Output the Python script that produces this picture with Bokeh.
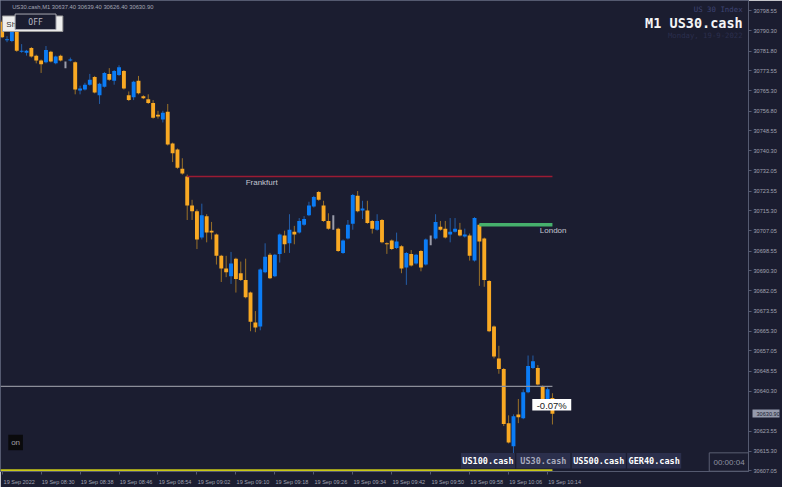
from bokeh.plotting import figure
from bokeh.models import (Range1d, FixedTicker, PrintfTickFormatter, Label,
                          BoxAnnotation, ColumnDataSource, LinearAxis)
from bokeh.embed import file_html
from bokeh.resources import INLINE

# ---------------- data ----------------
symbol = "US30.cash"
timeframe = "M1"
index_name = "US 30 Index"
date_text = "Monday, 19-9-2022"

# one candle per minute, minute 0 = 08:22
opens = [
    30794.0, 30786.35, 30785.95, 30791.6, 30781.5, 30781.1, 30783.1, 30779.9, 30777.9, 30777.1,
    30781.5, 30776.7, 30779.9, 30776.3, 30777.9, 30777.1, 30765.4, 30765.8, 30767.8, 30771.05,
    30763.4, 30767.0, 30772.3, 30769.45, 30771.85, 30773.5, 30763.4, 30762.6, 30769.45, 30763.0,
    30761.8, 30760.2, 30755.35, 30753.3, 30756.55, 30743.3, 30740.85, 30732.8, 30729.6, 30717.5,
    30715.1, 30704.2, 30713.1, 30707.05, 30705.45, 30696.6, 30691.35, 30688.1, 30695.4, 30689.35,
    30686.5, 30681.3, 30668.8, 30667.2, 30689.75, 30697.0, 30688.1, 30697.4, 30705.05, 30701.8,
    30706.65, 30706.25, 30709.5, 30713.5, 30717.1, 30723.15, 30717.5, 30711.1, 30710.3, 30707.9,
    30697.8, 30703.8, 30709.9, 30721.55, 30715.5, 30715.5, 30711.1, 30707.45, 30711.5, 30701.8,
    30703.0, 30699.8, 30700.6, 30691.75, 30697.4, 30693.4, 30698.6, 30692.95, 30703.0, 30703.8,
    30708.7, 30707.9, 30705.45, 30706.65, 30707.45, 30704.65, 30705.05, 30694.6, 30709.5, 30703.8,
    30686.1, 30667.2, 30653.9, 30649.5, 30626.95, 30617.3, 30630.6, 30629.0, 30639.85, 30649.9,
    30649.9, 30642.25, 30636.6, 30637.4]
highs = [
    30794.8, 30788.0, 30792.4, 30792.0, 30784.7, 30782.3, 30783.5, 30780.3, 30778.3, 30783.9,
    30781.9, 30779.9, 30780.3, 30777.5, 30779.1, 30777.5, 30767.4, 30768.6, 30772.3, 30771.45,
    30768.6, 30773.1, 30774.7, 30773.9, 30775.9, 30773.9, 30765.0, 30769.45, 30771.45, 30763.4,
    30763.8, 30761.4, 30756.95, 30756.95, 30759.8, 30743.7, 30741.25, 30737.2, 30730.4, 30719.9,
    30715.9, 30718.3, 30713.9, 30710.7, 30705.85, 30697.0, 30696.6, 30698.2, 30695.8, 30694.2,
    30695.4, 30681.7, 30673.6, 30691.35, 30701.8, 30697.8, 30697.4, 30705.85, 30707.05, 30713.9,
    30709.05, 30712.3, 30713.1, 30719.1, 30721.55, 30723.55, 30719.5, 30714.3, 30713.5, 30708.3,
    30703.4, 30711.5, 30722.35, 30723.55, 30719.5, 30719.5, 30711.5, 30713.9, 30711.9, 30702.2,
    30703.4, 30706.25, 30701.0, 30698.2, 30699.0, 30697.4, 30699.0, 30703.8, 30705.05, 30713.9,
    30711.1, 30711.1, 30712.3, 30712.3, 30710.3, 30707.9, 30705.85, 30712.7, 30709.9, 30704.2,
    30686.5, 30667.6, 30659.15, 30649.9, 30630.2, 30630.6, 30637.0, 30641.05, 30655.1, 30655.1,
    30651.1, 30642.65, 30641.85, 30639.4]
lows = [
    30787.2, 30785.5, 30785.5, 30781.5, 30781.1, 30779.9, 30779.1, 30776.7, 30772.7, 30776.7,
    30777.1, 30776.3, 30777.5, 30774.7, 30777.5, 30763.8, 30763.8, 30765.4, 30767.4, 30764.2,
    30759.8, 30766.6, 30769.45, 30767.8, 30771.45, 30765.8, 30761.0, 30761.4, 30763.8, 30761.8,
    30759.8, 30753.7, 30753.7, 30752.1, 30742.5, 30735.6, 30732.8, 30730.4, 30711.5, 30711.5,
    30699.4, 30703.4, 30702.2, 30703.4, 30692.95, 30685.7, 30687.7, 30684.9, 30681.3, 30686.1,
    30678.9, 30665.2, 30664.8, 30665.6, 30689.35, 30686.9, 30687.7, 30693.8, 30697.8, 30697.8,
    30701.4, 30705.85, 30709.1, 30713.1, 30716.7, 30719.5, 30710.7, 30707.45, 30707.45, 30698.2,
    30697.4, 30703.4, 30707.45, 30714.7, 30711.9, 30709.9, 30705.85, 30707.05, 30701.8, 30697.4,
    30699.0, 30699.4, 30689.35, 30684.5, 30692.15, 30692.95, 30690.15, 30692.55, 30701.0, 30703.4,
    30707.05, 30703.8, 30702.2, 30706.25, 30704.65, 30704.2, 30694.6, 30694.2, 30684.1, 30683.7,
    30664.8, 30653.9, 30647.5, 30625.75, 30618.5, 30614.5, 30626.95, 30628.6, 30639.4, 30649.5,
    30642.65, 30636.2, 30636.2, 30626.4]
closes = [
    30787.6, 30786.75, 30791.6, 30781.9, 30781.9, 30781.9, 30779.5, 30777.9, 30776.3, 30782.3,
    30777.5, 30779.5, 30777.9, 30776.3, 30778.3, 30765.8, 30766.2, 30767.8, 30769.85, 30764.6,
    30768.2, 30772.7, 30769.85, 30773.5, 30775.1, 30766.2, 30761.4, 30769.0, 30764.2, 30762.2,
    30760.2, 30754.1, 30754.55, 30756.15, 30742.9, 30739.25, 30733.2, 30730.8, 30717.5, 30715.1,
    30703.4, 30713.5, 30706.25, 30706.25, 30696.6, 30691.35, 30689.75, 30693.4, 30686.9, 30686.5,
    30679.3, 30669.2, 30666.8, 30690.95, 30696.2, 30687.3, 30697.0, 30705.45, 30701.4, 30707.45,
    30705.45, 30711.1, 30711.9, 30717.5, 30721.1, 30719.9, 30711.1, 30707.9, 30710.3, 30698.6,
    30703.0, 30709.5, 30721.95, 30715.1, 30716.3, 30710.3, 30707.9, 30711.1, 30702.2, 30701.4,
    30699.4, 30702.6, 30691.35, 30697.8, 30692.55, 30697.0, 30691.75, 30703.4, 30703.0, 30710.7,
    30707.45, 30704.2, 30706.65, 30707.9, 30705.05, 30705.45, 30696.6, 30712.3, 30702.6, 30686.5,
    30665.2, 30654.7, 30649.5, 30626.55, 30618.9, 30629.8, 30629.4, 30639.85, 30650.7, 30652.7,
    30643.05, 30636.6, 30641.05, 30630.9]

time_tick_minutes = [0, 8, 16, 24, 32, 40, 48, 56, 64, 72, 80, 88, 96, 104, 112]
time_tick_labels = ["19 Sep 2022", "19 Sep 08:30", "19 Sep 08:38", "19 Sep 08:46",
                    "19 Sep 08:54", "19 Sep 09:02", "19 Sep 09:10", "19 Sep 09:18",
                    "19 Sep 09:26", "19 Sep 09:34", "19 Sep 09:42", "19 Sep 09:50",
                    "19 Sep 09:58", "19 Sep 10:06", "19 Sep 10:14"]
price_ticks = [30798.55, 30790.30, 30781.80, 30773.55, 30765.30, 30756.80, 30748.55,
               30740.30, 30732.05, 30723.55, 30715.30, 30707.05, 30698.55, 30690.30,
               30682.05, 30673.55, 30665.30, 30657.05, 30648.55, 30640.30, 30623.55,
               30615.30, 30607.05]

frankfurt_start = 38   # 09:00
london_start = 98      # 10:00
ref_level = 30642.25
change_text = "-0.07%"
symbol_buttons = ["US100.cash", "US30.cash", "US500.cash", "GER40.cash"]
timer_text = "00:00:04"

# ---------------- styling ----------------
BG = "#1b1d30"
AXIS = "#555a70"
TICKTXT = "#a0a3b2"
BULL = "#0b7cf5"
BEAR = "#f9a923"
BULL_WICK = "#245ea8"
BEAR_WICK = "#9a7128"
DOJI = "#9a9caa"

FW, FH = 748, 471
x_start, x_end = -0.34, 153.26
y_top = 30802.85
y_bot = 30606.83

p = figure(frame_width=FW, frame_height=FH, output_backend="svg", toolbar_location=None,
           x_range=Range1d(x_start, x_end), y_range=Range1d(y_bot, y_top),
           y_axis_location="right", background_fill_color=BG, border_fill_color=BG,
           min_border_left=0, min_border_right=0, min_border_top=0, min_border_bottom=0)
p.outline_line_color = AXIS
p.xgrid.visible = False
p.ygrid.visible = False

# price axis
LABEL_PX = 5.6
p.yaxis.ticker = FixedTicker(ticks=price_ticks, minor_ticks=[])
p.yaxis.formatter = PrintfTickFormatter(format="%.2f")
p.yaxis.major_label_text_font_size = f"{LABEL_PX}px"
p.yaxis.major_label_text_font = "Liberation Sans"
p.yaxis.major_label_text_color = TICKTXT
p.yaxis.axis_line_color = AXIS
p.yaxis.major_tick_line_color = AXIS
p.yaxis.major_tick_out = 3
p.yaxis.major_tick_in = 0
p.yaxis.minor_tick_line_color = None
p.yaxis.major_label_standoff = 2

# current-price marker: an extra axis whose single tick is drawn inwards as a thick bar
main_axis_w = 3 + 2 + LABEL_PX * 4.17          # tick + standoff + label width ("30798.55")
label_w = LABEL_PX * 4.17
cur_axis = LinearAxis(ticker=FixedTicker(ticks=[closes[-1]], minor_ticks=[]),
                      formatter=PrintfTickFormatter(format="%.2f"),
                      axis_line_color=None, minor_tick_line_color=None,
                      major_tick_line_color="#959aac", major_tick_line_width=8,
                      major_tick_out=0, major_tick_in=int(round(main_axis_w)) - 1,
                      major_label_standoff=-int(round(label_w)),
                      major_label_text_font_size=f"{LABEL_PX}px",
                      major_label_text_font="Liberation Sans",
                      major_label_text_color=BG)
p.add_layout(cur_axis, "right")

label_shift = 3.5
p.xaxis.ticker = FixedTicker(ticks=[m + label_shift for m in time_tick_minutes],
                             minor_ticks=time_tick_minutes)
p.xaxis.major_label_overrides = {m + label_shift: t for m, t in zip(time_tick_minutes, time_tick_labels)}
p.xaxis.major_label_text_font_size = "5.5px"
p.xaxis.major_label_text_font = "Liberation Sans"
p.xaxis.major_label_text_color = TICKTXT
p.xaxis.axis_line_color = AXIS
p.xaxis.major_tick_out = 0
p.xaxis.major_tick_in = 0
p.xaxis.minor_tick_out = 3
p.xaxis.minor_tick_in = 0
p.xaxis.minor_tick_line_color = AXIS
p.xaxis.major_label_standoff = 4

# candles
def subset(kind):
    d = dict(x=[], high=[], low=[], top=[], bottom=[])
    for i, (o, h, l, c) in enumerate(zip(opens, highs, lows, closes)):
        k = "bull" if c > o else ("bear" if c < o else "doji")
        if k == kind:
            d["x"].append(i); d["high"].append(h); d["low"].append(l)
            d["top"].append(max(o, c)); d["bottom"].append(min(o, c))
    return ColumnDataSource(d)

bull_src, bear_src, doji_src = subset("bull"), subset("bear"), subset("doji")
p.segment(x0="x", y0="low", x1="x", y1="high", source=bull_src, line_color=BULL_WICK, line_width=1)
p.segment(x0="x", y0="low", x1="x", y1="high", source=bear_src, line_color=BEAR_WICK, line_width=1)
p.segment(x0="x", y0="low", x1="x", y1="high", source=doji_src, line_color=DOJI, line_width=2)
p.vbar(x="x", width=0.8, top="top", bottom="bottom", source=bull_src, fill_color=BULL, line_color=None)
p.vbar(x="x", width=0.8, top="top", bottom="bottom", source=bear_src, fill_color=BEAR, line_color=None)

last = len(closes) - 1

# session lines
fr_level = opens[frankfurt_start]
ld_level = opens[london_start]
p.segment(x0=[frankfurt_start], y0=[fr_level], x1=[last], y1=[fr_level], line_color="#9b1b33", line_width=1.5)
p.segment(x0=[london_start], y0=[ld_level], x1=[last], y1=[ld_level], line_color="#46b06c", line_width=3.5)
p.segment(x0=[x_start], y0=[ref_level], x1=[last], y1=[ref_level], line_color="#8c8e99", line_width=1.2)
p.segment(x0=[x_start], y0=[y_bot + 0.5], x1=[last], y1=[y_bot + 0.5], line_color="#c9c818", line_width=2)

# ---------------- decorations (reference pixel -> data helpers) ----------------
def dx(rx):
    return x_start + rx / 768.0 * (x_end - x_start)

def dy(ry):
    return y_top - ry / 487.0 * (y_top - y_bot)

def box(rx0, ry0, rx1, ry1, fill=None, line=None):
    p.add_layout(BoxAnnotation(left=dx(rx0), right=dx(rx1), top=dy(ry0), bottom=dy(ry1),
                               fill_color=fill if fill else "white", fill_alpha=1 if fill else 0,
                               line_color=line if line else "white", line_alpha=1 if line else 0,
                               line_width=1))

def txt(x, y, s, size, color, align="left", baseline="middle", font="Liberation Sans", style="normal"):
    p.add_layout(Label(x=x, y=y, text=s, text_font_size=f"{size}px", text_color=color,
                       text_align=align, text_baseline=baseline, text_font=font,
                       text_font_style=style))

# session labels
txt(50, fr_level - 0.6, "Frankfurt", 8, "#c4c6d0", baseline="top")
txt(110.4, ld_level - 0.6, "London", 8, "#c4c6d0", baseline="top")

# top-left info line
info = f"{symbol},{timeframe}  " + " ".join(f"{v:.2f}" for v in (opens[last], highs[last], lows[last], closes[last]))
txt(dx(12), dy(7), info, 5.8, "#a4a6b4")

# Show / OFF buttons
box(2, 16, 64, 32, fill="#eeeeee", line="#9a9a9a")
txt(dx(6), dy(24.5), "Sh", 8, "#333333")
box(15, 14, 57, 30, fill=BG, line="#a8a8b0")
txt(dx(36), dy(22.5), "OFF", 8, "#b8b8c2", align="center", font="DejaVu Sans Mono")

# top-right titles
txt(dx(762), dy(9.5), index_name, 7.4, "#3d4372", align="right", font="DejaVu Sans Mono")
txt(dx(762), dy(23), f"{timeframe} {symbol}", 13.5, "#f4f4f6", align="right",
    font="DejaVu Sans Mono", style="bold")
txt(dx(762), dy(36.5), date_text, 7.3, "#2b2f4e", align="right", font="DejaVu Sans Mono")

# change box
box(546, 412, 586, 424, fill="#ffffff")
txt(dx(566), dy(418.3), change_text, 9.5, "#222222", align="center")

# "on" button
box(8, 449, 23, 465, fill="#0a0a0c")
txt(dx(15.5), dy(457.5), "on", 8, "#a0a0a8", align="center")

# symbol buttons
for i, s in enumerate(symbol_buttons):
    left = 472.7 + i * 56.9
    box(left, 468, left + 55.5, 484, fill="#2b2f4c")
    txt(dx(left + 27.75), dy(476.5), s, 8.5, "#a8abbd" if s == symbol else "#ffffff",
        align="center", font="DejaVu Sans Mono", style="bold")

# timer box
box(727.7, 467.7, 768, 486.7, line="#5a5e72")
txt(dx(748), dy(477.5), timer_text, 8, "#8f92a2", align="center")

open("out.html", "w").write(file_html(p, INLINE))
